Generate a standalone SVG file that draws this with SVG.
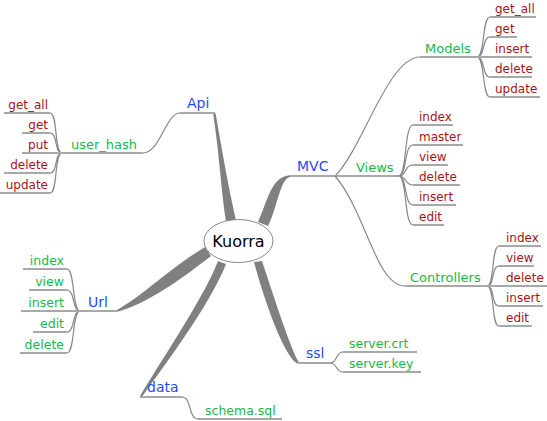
<svg xmlns="http://www.w3.org/2000/svg" width="547" height="421" viewBox="0 0 547 421">
<style>
text{font-family:"DejaVu Sans","Liberation Sans",sans-serif}
.root{font-size:16px;fill:#000}
.l1{font-size:14px;fill:#1f48ff}
.l2{font-size:13px;fill:#16b84a}
.lg{font-size:12.5px;fill:#16b84a}
.lr{font-size:12px;fill:#a81414}
.ul{stroke:#a8a8a8;stroke-width:2;fill:none}
.cv{stroke:#888;stroke-width:1.2;fill:none}
.br{fill:#808080;stroke:none}
.e{text-anchor:end}
</style>
<g id="connectors">
<!-- thick main branches -->
<path class="br" d="M226,222 C221,190 219,150 213,113 L215.5,113 C222,150 228,185 236,221 Z"/>
<path class="br" d="M258,222 C267,203 271,176 290,175.3 L291,176.7 C280,177.5 278,206 268,226 Z"/>
<path class="br" d="M205,247 C170,268 140,298 116,310.4 L118,311.6 C145,304 175,284 211,256 Z"/>
<path class="br" d="M218,261 C205,295 168,350 140,396 L142.5,396 C176,350 212,300 226,264 Z"/>
<path class="br" d="M254,262 C264,300 284,356 297,363.5 L299,362.5 C291,350 275,300 262,261 Z"/>
<!-- level-1 underlines -->
<path class="ul" d="M180,113H215"/>
<path class="ul" d="M290,176H335"/>
<path class="ul" d="M80,311H118"/>
<path class="ul" d="M298,363H330"/>
<path class="ul" d="M140,397H182"/>
<!-- level-2 edges -->
<path class="cv" d="M180,113 C166,113 160,153 143,153"/>
<path class="ul" d="M62,153H143"/>
<path class="cv" d="M335,176 C362,150 388,57 420,57"/>
<path class="ul" d="M420,57H477"/>
<path class="ul" d="M335,176H399"/>
<path class="cv" d="M335,176 C366,212 376,286 405,286"/>
<path class="ul" d="M405,286H487"/>
<!-- user_hash children -->
<path class="cv" d="M62,153 C54,153 58,113 50,113"/>
<path class="cv" d="M62,153 C54,153 58,133 50,133"/>
<path class="cv" d="M62,153 C54,153 58,173 50,173"/>
<path class="cv" d="M62,153 C54,153 58,193 50,193"/>
<path class="ul" d="M4,113H50M22,133H50M22,153H62M4,173H50M0,193H50"/>
<!-- Models children -->
<path class="cv" d="M477,57 C485,57 482,17 490,17"/>
<path class="cv" d="M477,57 C485,57 482,37 490,37"/>
<path class="cv" d="M477,57 C485,57 482,77 490,77"/>
<path class="cv" d="M477,57 C485,57 482,97 490,97"/>
<path class="ul" d="M490,17H536M490,37H517M477,57H532M490,77H532M490,97H540"/>
<!-- Views children -->
<path class="cv" d="M399,176 C407,176 404,125 413,125"/>
<path class="cv" d="M399,176 C407,176 404,145 413,145"/>
<path class="cv" d="M399,176 C407,176 404,165 413,165"/>
<path class="cv" d="M399,176 C407,176 404,185 413,185"/>
<path class="cv" d="M399,176 C407,176 404,205 413,205"/>
<path class="cv" d="M399,176 C407,176 404,225 413,225"/>
<path class="ul" d="M413,125H453M413,145H463M413,165H448M413,185H460M413,205H456M413,225H444"/>
<!-- Controllers children -->
<path class="cv" d="M487,286 C495,286 491,246 499,246"/>
<path class="cv" d="M487,286 C495,286 491,266 499,266"/>
<path class="cv" d="M487,286 C495,286 491,306 499,306"/>
<path class="cv" d="M487,286 C495,286 491,326 499,326"/>
<path class="ul" d="M499,246H541M499,266H534M487,286H547M499,306H543M499,326H532"/>
<!-- Url children -->
<path class="cv" d="M80,311 C72,311 75,269 67,269"/>
<path class="cv" d="M80,311 C72,311 75,290 67,290"/>
<path class="cv" d="M80,311 C72,311 75,332 67,332"/>
<path class="cv" d="M80,311 C72,311 75,353 67,353"/>
<path class="ul" d="M23,269H67M29,290H67M21,311H80M33,332H67M20,353H67"/>
<!-- ssl children -->
<path class="cv" d="M330,363 C338,363 335,352 343,352"/>
<path class="cv" d="M330,363 C338,363 335,372 343,372"/>
<path class="ul" d="M343,352H417M343,372H421"/>
<!-- data child -->
<path class="cv" d="M182,397 C192,397 188,419 198,419"/>
<path class="ul" d="M198,419H282"/>
</g>
<g id="node-kuorra">
<ellipse cx="238.5" cy="241" rx="34.5" ry="21.5" fill="#fff" stroke="#888" stroke-width="1"/>
<text class="root" x="238.5" y="247" text-anchor="middle">Kuorra</text>
</g>
<g id="node-api"><text class="l1" x="187" y="108">Api</text></g>
<g id="node-user_hash"><text class="l2" x="71" y="149">user_hash</text></g>
<g id="node-uh-get_all"><text class="lr e" x="48" y="109">get_all</text></g>
<g id="node-uh-get"><text class="lr e" x="48" y="129">get</text></g>
<g id="node-uh-put"><text class="lr e" x="48" y="149">put</text></g>
<g id="node-uh-delete"><text class="lr e" x="48" y="169">delete</text></g>
<g id="node-uh-update"><text class="lr e" x="48" y="189">update</text></g>
<g id="node-mvc"><text class="l1" x="297" y="171">MVC</text></g>
<g id="node-models"><text class="l2" x="425" y="53">Models</text></g>
<g id="node-m-get_all"><text class="lr" x="495" y="13">get_all</text></g>
<g id="node-m-get"><text class="lr" x="495" y="33">get</text></g>
<g id="node-m-insert"><text class="lr" x="495" y="53">insert</text></g>
<g id="node-m-delete"><text class="lr" x="495" y="73">delete</text></g>
<g id="node-m-update"><text class="lr" x="495" y="93">update</text></g>
<g id="node-views"><text class="l2" x="356" y="172">Views</text></g>
<g id="node-v-index"><text class="lr" x="419" y="121">index</text></g>
<g id="node-v-master"><text class="lr" x="419" y="141">master</text></g>
<g id="node-v-view"><text class="lr" x="419" y="161">view</text></g>
<g id="node-v-delete"><text class="lr" x="419" y="181">delete</text></g>
<g id="node-v-insert"><text class="lr" x="419" y="201">insert</text></g>
<g id="node-v-edit"><text class="lr" x="419" y="221">edit</text></g>
<g id="node-controllers"><text class="l2" x="410" y="282">Controllers</text></g>
<g id="node-c-index"><text class="lr" x="506" y="242">index</text></g>
<g id="node-c-view"><text class="lr" x="506" y="262">view</text></g>
<g id="node-c-delete"><text class="lr" x="506" y="282">delete</text></g>
<g id="node-c-insert"><text class="lr" x="506" y="302">insert</text></g>
<g id="node-c-edit"><text class="lr" x="506" y="322">edit</text></g>
<g id="node-url"><text class="l1" x="88" y="307">Url</text></g>
<g id="node-u-index"><text class="lg e" x="64" y="265">index</text></g>
<g id="node-u-view"><text class="lg e" x="64" y="286">view</text></g>
<g id="node-u-insert"><text class="lg e" x="64" y="307">insert</text></g>
<g id="node-u-edit"><text class="lg e" x="64" y="328">edit</text></g>
<g id="node-u-delete"><text class="lg e" x="64" y="349">delete</text></g>
<g id="node-ssl"><text class="l1" x="306" y="358">ssl</text></g>
<g id="node-s-crt"><text class="lg" x="349" y="348">server.crt</text></g>
<g id="node-s-key"><text class="lg" x="349" y="368">server.key</text></g>
<g id="node-data"><text class="l1" x="147" y="392">data</text></g>
<g id="node-d-schema"><text class="lg" x="205" y="415">schema.sql</text></g>
</svg>
